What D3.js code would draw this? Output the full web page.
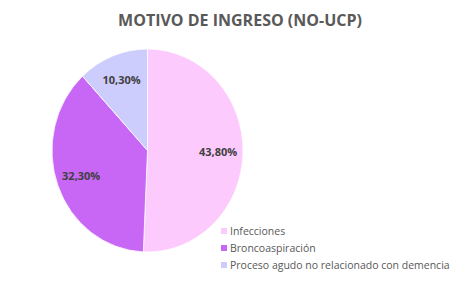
<!DOCTYPE html>
<html>
<head>
<meta charset="utf-8">
<script src="https://cdn.jsdelivr.net/npm/d3@7"></script>
<style>
  body { margin: 0; background: #fff; }
  svg { display: block; font-family: "Open Sans", "Liberation Sans", sans-serif; }
</style>
</head>
<body>
<svg id="chart" width="456" height="282"></svg>
<script>
const width = 456;
const height = 282;

// Chart data
const categories = ["Infecciones", "Broncoaspiración", "Proceso agudo no relacionado con demencia"];
const values = [43.8, 32.3, 10.3];
const labels = ["43,80%", "32,30%", "10,30%"];
const colors = ["#fdcafd", "#c866f6", "#cdcdfd"];

const svg = d3.select("#chart");

// Title
svg.append("text")
  .attr("x", 240)
  .attr("y", 26)
  .attr("text-anchor", "middle")
  .attr("font-size", 16)
  .attr("font-weight", "bold")
  .attr("fill", "#595959")
  .text("MOTIVO DE INGRESO (NO-UCP)");

// Pie (the reference is slightly taller than wide)
const cx = 147.5, cy = 150.5, radius = 95.5, yScale = 1.063;
const pie = d3.pie().sort(null).value(d => d.value);
const arc = d3.arc().innerRadius(0).outerRadius(radius);
const labelArc = d3.arc().innerRadius(radius * 0.74).outerRadius(radius * 0.74);

const data = categories.map((c, i) => ({ name: c, value: values[i], label: labels[i], color: colors[i] }));
const g = svg.append("g").attr("transform", `translate(${cx},${cy})`);

const arcs = pie(data);

g.append("g")
  .attr("transform", `scale(1,${yScale})`)
  .selectAll("path")
  .data(arcs)
  .join("path")
  .attr("d", arc)
  .attr("fill", d => d.data.color)
  .attr("stroke", "#fff")
  .attr("stroke-width", 0.8)
  .attr("vector-effect", "non-scaling-stroke");

g.selectAll("text")
  .data(arcs)
  .join("text")
  .attr("transform", d => {
    const [x, y] = labelArc.centroid(d);
    return `translate(${x},${y * yScale})`;
  })
  .attr("text-anchor", "middle")
  .attr("dy", "0.35em")
  .attr("font-size", 11)
  .attr("font-weight", "bold")
  .attr("fill", "#404040")
  .text(d => d.data.label);

// Legend
const legend = svg.append("g").attr("transform", "translate(221,231)");
const rows = legend.selectAll("g")
  .data(data)
  .join("g")
  .attr("transform", (d, i) => `translate(0,${i * 17})`);

rows.append("rect")
  .attr("x", 0)
  .attr("y", -3)
  .attr("width", 6)
  .attr("height", 6)
  .attr("fill", d => d.color);

rows.append("text")
  .attr("x", 9)
  .attr("dy", "0.35em")
  .attr("font-size", 10.5)
  .attr("fill", "#595959")
  .text(d => d.name);
</script>
</body>
</html>
